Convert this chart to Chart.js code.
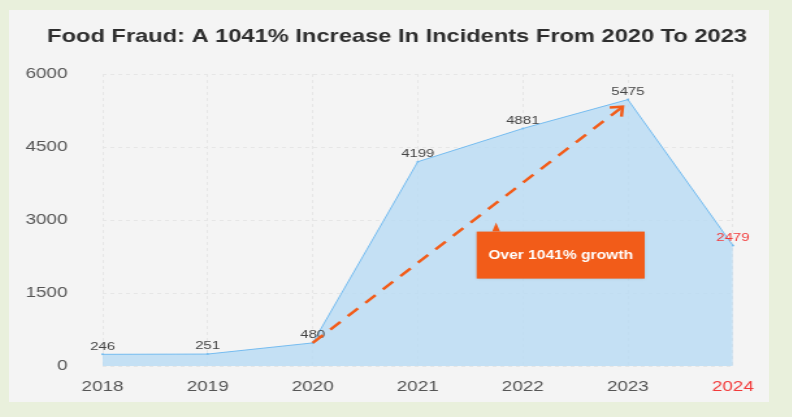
<!DOCTYPE html>
<html>
<head>
<meta charset="utf-8">
<script src="https://cdn.jsdelivr.net/npm/chart.js@4.4.0/dist/chart.umd.min.js"></script>
<style>
    html, body { margin: 0; padding: 0; background: #e9f0dc; }
    #panel { position: absolute; left: 9px; top: 10px; width: 760px; height: 392px; background: #f4f4f4; overflow: hidden; }
    /* the original picture is stretched sideways, so the canvas is too */
    #chart { transform: scaleX(1.3); transform-origin: 0 0; }
</style>
</head>
<body>
<div id="panel"><canvas id="chart" width="585" height="392"></canvas></div>
<script>
const years = ['2018', '2019', '2020', '2021', '2022', '2023', '2024'];
const incidents = [246, 251, 480, 4199, 4881, 5475, 2479];
const yTicks = [0, 1500, 3000, 4500, 6000];
const highlightYear = '2024';
const titleText = 'Food Fraud: A 1041% Increase In Incidents From 2020 To 2023';
const growthNote = 'Over 1041% growth';

const orange = '#f25c19';
const red = '#f23a3a';
const font = 'Liberation Sans';

// title, centred a little right of the canvas middle like the original
const chartTitle = {
    id: 'chartTitle',
    afterDraw(chart) {
        const ctx = chart.ctx;
        ctx.save();
        ctx.font = 'bold 18.2px ' + font;
        ctx.fillStyle = '#2e2e2e';
        ctx.textAlign = 'center';
        ctx.textBaseline = 'middle';
        ctx.fillText(titleText, 298.5, 27);
        ctx.restore();
    }
};

// value labels above each point
const valueLabels = {
    id: 'valueLabels',
    afterDatasetsDraw(chart) {
        const ctx = chart.ctx;
        const meta = chart.getDatasetMeta(0);
        ctx.save();
        ctx.font = '11.5px ' + font;
        ctx.textAlign = 'center';
        ctx.textBaseline = 'bottom';
        meta.data.forEach(function(pt, i) {
            ctx.fillStyle = years[i] === highlightYear ? red : '#444';
            ctx.fillText(incidents[i], pt.x, pt.y - 2);
        });
        ctx.restore();
    }
};

// dashed growth arrow and callout box
const growthArrow = {
    id: 'growthArrow',
    afterDatasetsDraw(chart) {
        const ctx = chart.ctx;
        const x = chart.scales.x, y = chart.scales.y;
        const x0 = x.getPixelForValue(2.0), y0 = y.getPixelForValue(480);
        const x1 = x.getPixelForValue(4.95), y1 = y.getPixelForValue(5330);
        ctx.save();
        ctx.strokeStyle = orange;
        ctx.lineWidth = 2.5;
        ctx.setLineDash([11, 8]);
        ctx.beginPath();
        ctx.moveTo(x0, y0);
        ctx.lineTo(x1, y1);
        ctx.stroke();
        ctx.setLineDash([]);
        const ang = Math.atan2(y1 - y0, x1 - x0);
        const len = 10;
        ctx.beginPath();
        ctx.moveTo(x1 - len * Math.cos(ang - 0.7), y1 - len * Math.sin(ang - 0.7));
        ctx.lineTo(x1, y1);
        ctx.lineTo(x1 - len * Math.cos(ang + 0.7), y1 - len * Math.sin(ang + 0.7));
        ctx.stroke();

        const bl = x.getPixelForValue(3.56), br = x.getPixelForValue(5.16);
        const bt = y.getPixelForValue(2765), bb = y.getPixelForValue(1800);
        ctx.fillStyle = orange;
        ctx.shadowColor = 'rgba(0,0,0,0.2)';
        ctx.shadowBlur = 3;
        ctx.fillRect(bl, bt, br - bl, bb - bt);
        ctx.shadowBlur = 0;
        ctx.beginPath();
        ctx.moveTo(bl + 12, bt);
        ctx.lineTo(bl + 15, bt - 9);
        ctx.lineTo(bl + 18, bt);
        ctx.closePath();
        ctx.fill();
        ctx.fillStyle = '#fff';
        ctx.font = 'bold 12px ' + font;
        ctx.textAlign = 'center';
        ctx.textBaseline = 'middle';
        ctx.fillText(growthNote, (bl + br) / 2, (bt + bb) / 2 + 1);
        ctx.restore();
    }
};

new Chart(document.getElementById('chart'), {
    type: 'line',
    data: {
        labels: years,
        datasets: [{
            data: incidents,
            borderColor: '#74bbef',
            borderWidth: 1,
            backgroundColor: 'rgba(180, 217, 244, 0.75)',
            fill: 'origin',
            pointRadius: 1,
            pointBackgroundColor: '#74bbef',
            pointBorderWidth: 0,
            tension: 0
        }]
    },
    options: {
        responsive: false,
        animation: false,
        layout: {padding: {top: 64, right: 27, bottom: -12, left: 0}},
        plugins: {
            legend: {display: false},
            tooltip: {enabled: false},
            title: {display: false}
        },
        scales: {
            x: {
                offset: false,
                grid: {color: '#e6e6e6', drawTicks: false},
                border: {display: false, dash: [3, 3]},
                ticks: {
                    padding: 12,
                    color: function(c) { return years[c.index] === highlightYear ? red : '#555'; },
                    font: {family: font, size: 14.5}
                }
            },
            y: {
                min: 0,
                max: 6000,
                afterBuildTicks: function(axis) { axis.ticks = yTicks.map(function(v) { return {value: v}; }); },
                afterFit: function(axis) { axis.width = 72; },
                grid: {color: '#e6e6e6', drawTicks: false},
                border: {display: false, dash: [3, 3]},
                ticks: {
                    padding: 27,
                    color: '#555',
                    font: {family: font, size: 14.5},
                    callback: function(v) { return String(v); }
                }
            }
        }
    },
    plugins: [valueLabels, growthArrow, chartTitle]
});
</script>
</body>
</html>
